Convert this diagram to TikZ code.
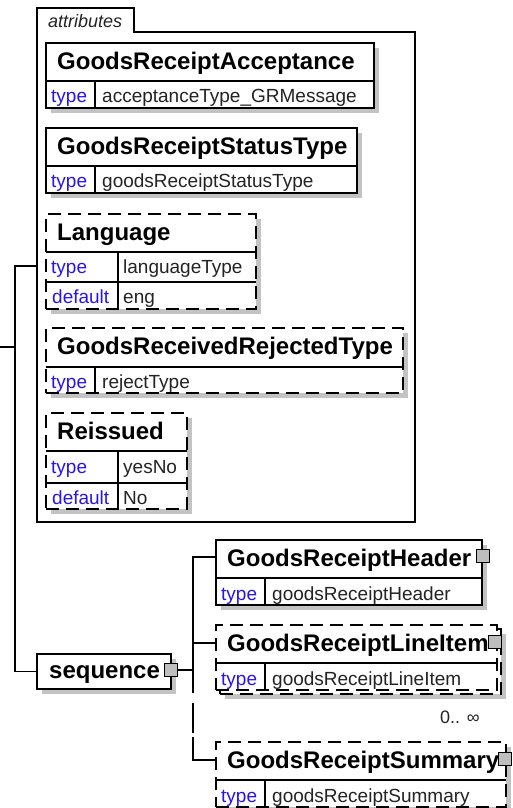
\documentclass[tikz,border=0pt]{standalone}
\usepackage{fontspec}
\setmainfont{Liberation Sans}
\definecolor{keyblue}{RGB}{40,20,240}
\definecolor{valgray}{RGB}{35,35,35}
\definecolor{shadecol}{RGB}{195,195,195}
\definecolor{sqfill}{RGB}{190,190,190}
\tikzset{
  frame/.style={draw=black, line width=1.4pt, fill=white, anchor=north west, inner sep=0pt, outer sep=0pt},
  dframe/.style={frame, dash pattern=on 13pt off 7pt},
  blank/.style={anchor=north west, inner sep=0pt, outer sep=0pt},
  shade/.style={fill=shadecol},
  rule/.style={line width=1.4pt},
  ttl/.style={font=\bfseries\fontsize{24}{24}\selectfont, anchor=base west, inner sep=0pt},
  key/.style={font=\fontsize{19}{20}\selectfont, text=keyblue, anchor=base west, inner sep=0pt},
  val/.style={font=\fontsize{19}{20}\selectfont, text=valgray, anchor=base west, inner sep=0pt},
  wire/.style={line width=1.4pt},
  knob/.style={draw=black, fill=sqfill, line width=1pt, minimum size=13pt, inner sep=0pt},
}
\begin{document}
\begin{tikzpicture}[x=1pt,y=-1pt]
\useasboundingbox (0,0) rectangle (512,808);
\clip (0,0) rectangle (512,808);
\fill[white] (0,0) rectangle (512,808);

% ---------- attributes frame ----------
\node[blank, minimum width=378pt, minimum height=490pt] (attr) at (37,32) {};
\draw[rule, line width=1.2pt] (37,32) -- (37,8) -- (134,8) -- (134,32) -- (415,32) -- (415,522) -- (37,522) -- cycle;
\node[font=\itshape\fontsize{18}{18}\selectfont, text=valgray, anchor=base west, inner sep=0pt] (attrT) at (48,28) {attributes};

% ---------- GoodsReceiptAcceptance ----------
\fill[shade] (51,48) rectangle (379,113);
\node[frame, minimum width=328pt, minimum height=65pt] (acc) at (46,43) {};
\draw[rule] (46,81) -- (374,81) (95,81) -- (95,108);
\node[ttl] (accT) at (57,69.5) {GoodsReceiptAcceptance};
\node[key] (accK) at (51,102.5) {type};
\node[val] (accV) at (102,102.5) {acceptanceType\_GRMessage};

% ---------- GoodsReceiptStatusType ----------
\fill[shade] (51,133) rectangle (362,198);
\node[frame, minimum width=311pt, minimum height=65pt] (stat) at (46,128) {};
\draw[rule] (46,166) -- (357,166) (95,166) -- (95,193);
\node[ttl] (statT) at (57,154.5) {GoodsReceiptStatusType};
\node[key] (statK) at (51,187.5) {type};
\node[val] (statV) at (102,187.5) {goodsReceiptStatusType};

% ---------- Language ----------
\fill[shade] (51,219) rectangle (261,314);
\node[dframe, minimum width=210pt, minimum height=95pt] (lang) at (46,214) {};
\draw[rule] (46,252) -- (256,252) (46,282) -- (256,282) (118,252) -- (118,309);
\node[ttl] (langT) at (57,240.5) {Language};
\node[key] (langK1) at (51,273.5) {type};
\node[val] (langV1) at (123,273.5) {languageType};
\node[key] (langK2) at (52,303.5) {default};
\node[val] (langV2) at (123,303.5) {eng};

% ---------- GoodsReceivedRejectedType ----------
\fill[shade] (51,333) rectangle (408,398);
\node[dframe, minimum width=357pt, minimum height=65pt] (rej) at (46,328) {};
\draw[rule] (46,367) -- (403,367) (95,367) -- (95,393);
\node[ttl] (rejT) at (57,354.5) {GoodsReceivedRejectedType};
\node[key] (rejK) at (51,388.5) {type};
\node[val] (rejV) at (102,388.5) {rejectType};

% ---------- Reissued ----------
\fill[shade] (51,418) rectangle (192,514);
\node[dframe, minimum width=141pt, minimum height=96pt] (reis) at (46,413) {};
\draw[rule] (46,451) -- (187,451) (46,483) -- (187,483) (118,451) -- (118,509);
\node[ttl] (reisT) at (57,439.5) {Reissued};
\node[key] (reisK1) at (51,473) {type};
\node[val] (reisV1) at (123,473) {yesNo};
\node[key] (reisK2) at (52,504) {default};
\node[val] (reisV2) at (123,504) {No};

% ---------- sequence ----------
\fill[shade] (42,659) rectangle (176,694);
\node[frame, minimum width=134pt, minimum height=35pt] (seq) at (37,654) {};
\node[ttl] (seqT) at (49,678) {sequence};
\node[knob] (seqK) at (171,670) {};

% ---------- GoodsReceiptHeader ----------
\fill[shade] (221,545) rectangle (487,610);
\node[frame, minimum width=266pt, minimum height=65pt] (hdr) at (216,540) {};
\draw[rule] (216,578) -- (482,578) (265,578) -- (265,605);
\node[ttl] (hdrT) at (227,566) {GoodsReceiptHeader};
\node[key] (hdrK) at (221,600) {type};
\node[val] (hdrV) at (272,600) {goodsReceiptHeader};
\node[knob] (hdrN) at (483,556) {};

% ---------- GoodsReceiptLineItem ----------
\fill[shade] (225,634) rectangle (506,699);
\node[dframe, minimum width=281pt, minimum height=65pt] (liBack) at (220,629) {};
\node[dframe, minimum width=281pt, minimum height=65pt] (li) at (216,625) {};
\draw[rule] (216,663) -- (497,663) (265,663) -- (265,690);
\node[ttl] (liT) at (227,651) {GoodsReceiptLineItem};
\node[key] (liK) at (221,685) {type};
\node[val] (liV) at (272,685) {goodsReceiptLineItem};
\node[knob] (liN) at (495,642) {};
\node[font=\fontsize{18}{18}\selectfont, text=valgray, anchor=base west, inner sep=0pt] (liM) at (440,723) {0.. ∞};

% ---------- GoodsReceiptSummary ----------
\fill[shade] (221,747) rectangle (511,817);
\node[dframe, minimum width=290pt, minimum height=65pt] (sum) at (216,742) {};
\draw[rule] (216,780) -- (506,780) (265,780) -- (265,808);
\node[ttl] (sumT) at (227,768) {GoodsReceiptSummary};
\node[key] (sumK) at (221,802) {type};
\node[val] (sumV) at (272,802) {goodsReceiptSummary};
\node[knob] (sumN) at (505,759) {};

% ---------- connectors ----------
\coordinate (src) at (0,347);
\coordinate (trunk) at (15,347);
\coordinate (tTop) at (15,266);
\draw[wire] (src) -- (trunk);
\draw[wire] (tTop -| attr.west) -- (tTop) -- (seq.west -| tTop) -- (seq.west);

\coordinate (bH) at (193,557);
\coordinate (bL) at (193,643);
\coordinate (bS) at (193,760);
\draw[wire] (seqK.east) -- (seqK.east -| bH);
\draw[wire] (bH -| hdr.west) -- (bH) -- (193,693);
\draw[wire] (bL) -- (bL -| li.west);
\draw[wire] (193,703) -- (193,733);
\draw[wire] (193,737) -- (bS) -- (bS -| sum.west);
\end{tikzpicture}
\end{document}
